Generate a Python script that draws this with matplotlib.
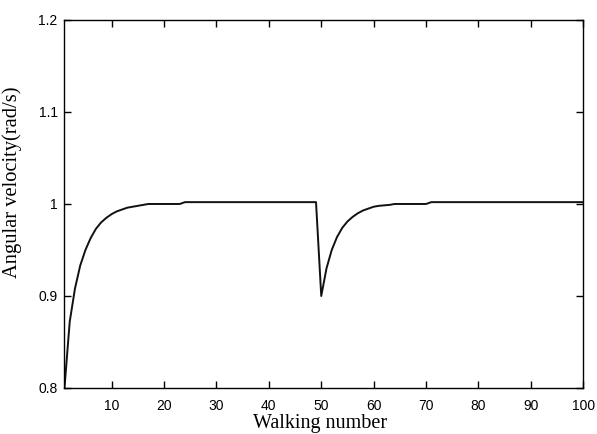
import matplotlib
matplotlib.use("Agg")
import matplotlib.pyplot as plt

# walking number and angular velocity
walk = list(range(1, 101))
omega = ([0.800, 0.872, 0.908, 0.933, 0.950, 0.963, 0.973, 0.980, 0.985, 0.989,
          0.992, 0.994, 0.996, 0.997, 0.998, 0.999, 1.000, 1.000, 1.000, 1.000,
          1.000, 1.000, 1.000]
         + [1.002] * 26
         + [0.900, 0.930, 0.950, 0.964, 0.974, 0.981, 0.986, 0.990, 0.993, 0.995,
            0.997, 0.998, 0.9985, 0.999, 1.000, 1.000, 1.000, 1.000, 1.000, 1.000,
            1.000]
         + [1.002] * 30)

xticks = [10, 20, 30, 40, 50, 60, 70, 80, 90, 100]
yticks = [0.8, 0.9, 1.0, 1.1, 1.2]
ytick_labels = ["0.8", "0.9", "1", "1.1", "1.2"]

fig = plt.figure(figsize=(5.97, 4.34), dpi=100)
ax = fig.add_axes([0.108, 0.106, 0.869, 0.848])

ax.plot(walk, omega, color="#111111", linewidth=1.4)

ax.set_xlim(1, 100)
ax.set_ylim(0.8, 1.2)
ax.set_xticks(xticks)
ax.set_yticks(yticks)
ax.set_yticklabels(ytick_labels)
ax.tick_params(direction="in", length=5, width=1, top=True, right=True,
               labelsize=10, pad=5)
ax.tick_params(axis="x", pad=8)
for lab in ax.get_xticklabels() + ax.get_yticklabels():
    lab.set_family("Liberation Sans")
for s in ax.spines.values():
    s.set_linewidth(1.0)

ax.set_xlabel("Walking number", family="Liberation Serif", fontsize=14.5)
ax.xaxis.set_label_coords(0.4925, -0.108)
ax.xaxis.label.set_va("baseline")
ax.set_ylabel("Angular velocity(rad/s)", family="Liberation Serif", fontsize=14.8)
ax.yaxis.set_label_coords(-0.100, 0.56)
ax.yaxis.label.set_va("center")

fig.savefig("out.png", dpi=100)
